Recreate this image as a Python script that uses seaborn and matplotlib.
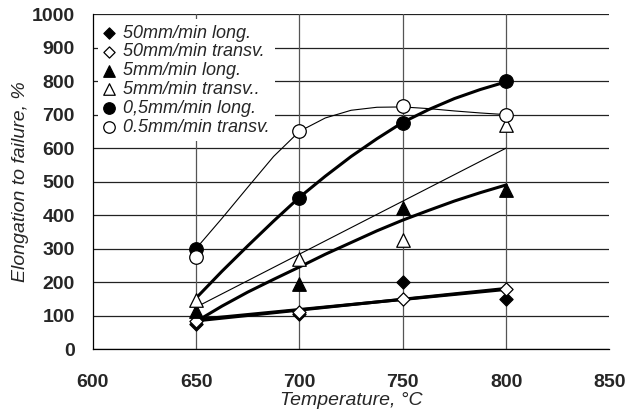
import matplotlib
matplotlib.use("Agg")
import matplotlib.pyplot as plt
import seaborn as sns

# --- data ---
temps = [650, 700, 750, 800]
v50_long = [75, 105, 200, 150]
v50_transv = [85, 110, 150, 178]
v5_long = [115, 195, 420, 475]
v5_transv = [145, 270, 325, 670]
v05_long = [300, 450, 675, 800]
v05_transv = [275, 650, 727, 700]

labels = ["50mm/min long.", "50mm/min transv.", "5mm/min long.",
          "5mm/min transv..", "0,5mm/min long.", "0.5mm/min transv."]

# trend curves as drawn in the chart (read at 12.5 °C steps)
trend_t = [650, 662.5, 675, 687.5, 700, 712.5, 725, 737.5, 750, 762.5, 775, 787.5, 800]
trend_05_long = [152, 232, 308, 382, 453, 516, 575, 628, 677, 715, 748, 775, 798]
trend_05_transv = [300, 390, 483, 575, 650, 690, 713, 722, 723, 718, 711, 705, 700]
trend_5_long = [82, 128, 170, 208, 245, 283, 318, 353, 385, 414, 442, 467, 490]
# straight trend lines (end points)
trend_t_lin = [650, 800]
trend_5_transv = [125, 600]
trend_50_long = [84, 181]
trend_50_transv = [88, 178]

sns.set_theme(style="white")
plt.rcParams["font.family"] = ["Liberation Sans", "DejaVu Sans"]

fig = plt.figure(figsize=(6.38, 4.17), dpi=100)
ax = fig.add_axes([0.1453, 0.163, 0.81, 0.803])

# gridlines
for yv in range(0, 1001, 100):
    ax.axhline(yv, color="#222222", lw=0.9, zorder=0)
for xv in [650, 700, 750, 800]:
    ax.axvline(xv, color="#555555", lw=0.9, zorder=0)

# trend lines
thick, thin = 2.2, 0.8
sns.lineplot(x=trend_t_lin, y=trend_50_long, color="black", lw=thick, ax=ax, zorder=2)
sns.lineplot(x=trend_t_lin, y=trend_50_transv, color="black", lw=thick, ax=ax, zorder=2)
sns.lineplot(x=trend_t, y=trend_5_long, color="black", lw=thick, ax=ax, zorder=2)
sns.lineplot(x=trend_t_lin, y=trend_5_transv, color="black", lw=thin, ax=ax, zorder=2)
sns.lineplot(x=trend_t, y=trend_05_long, color="black", lw=thick, ax=ax, zorder=2)
sns.lineplot(x=trend_t, y=trend_05_transv, color="black", lw=thin, ax=ax, zorder=2)

# markers
series = [v50_long, v50_transv, v5_long, v5_transv, v05_long, v05_transv]
markers = ["D", "D", "^", "^", "o", "o"]
sizes = [45, 45, 95, 95, 95, 95]
faces = ["black", "white", "black", "white", "black", "white"]
for vals, m, s, fc, lab in zip(series, markers, sizes, faces, labels):
    sns.scatterplot(x=temps, y=vals, marker=m, s=s, color=fc, edgecolor="black",
                    linewidth=0.9, ax=ax, zorder=3, label=lab)

ax.set_xlim(600, 850)
ax.set_ylim(0, 1000)
ax.set_xticks([600, 650, 700, 750, 800, 850])
ax.set_yticks(list(range(0, 1001, 100)))
for s in ["top", "right"]:
    ax.spines[s].set_visible(False)
for s in ["left", "bottom"]:
    ax.spines[s].set_color("black")
    ax.spines[s].set_linewidth(0.9)
ax.tick_params(axis="both", direction="inout", length=10, width=0.9, color="black",
               labelsize=14)
ax.tick_params(axis="y", pad=8)
ax.tick_params(axis="x", pad=13)
for t in ax.get_xticklabels() + ax.get_yticklabels():
    t.set_fontweight("bold")
ax.set_xlabel("Temperature, °C", fontsize=14, fontstyle="italic", labelpad=1)
ax.set_ylabel("Elongation to failure, %", fontsize=14, fontstyle="italic", labelpad=2)

leg = ax.legend(loc="upper left", bbox_to_anchor=(0.0, 1.0), frameon=True,
                facecolor="white", edgecolor="none", framealpha=1.0, fancybox=False,
                prop={"style": "italic", "size": 13}, labelspacing=0.1,
                handletextpad=0.5, handlelength=0.6, borderpad=0.3,
                borderaxespad=0.28, markerscale=0.85)
leg.set_zorder(5)

fig.savefig("out.png", dpi=100)
